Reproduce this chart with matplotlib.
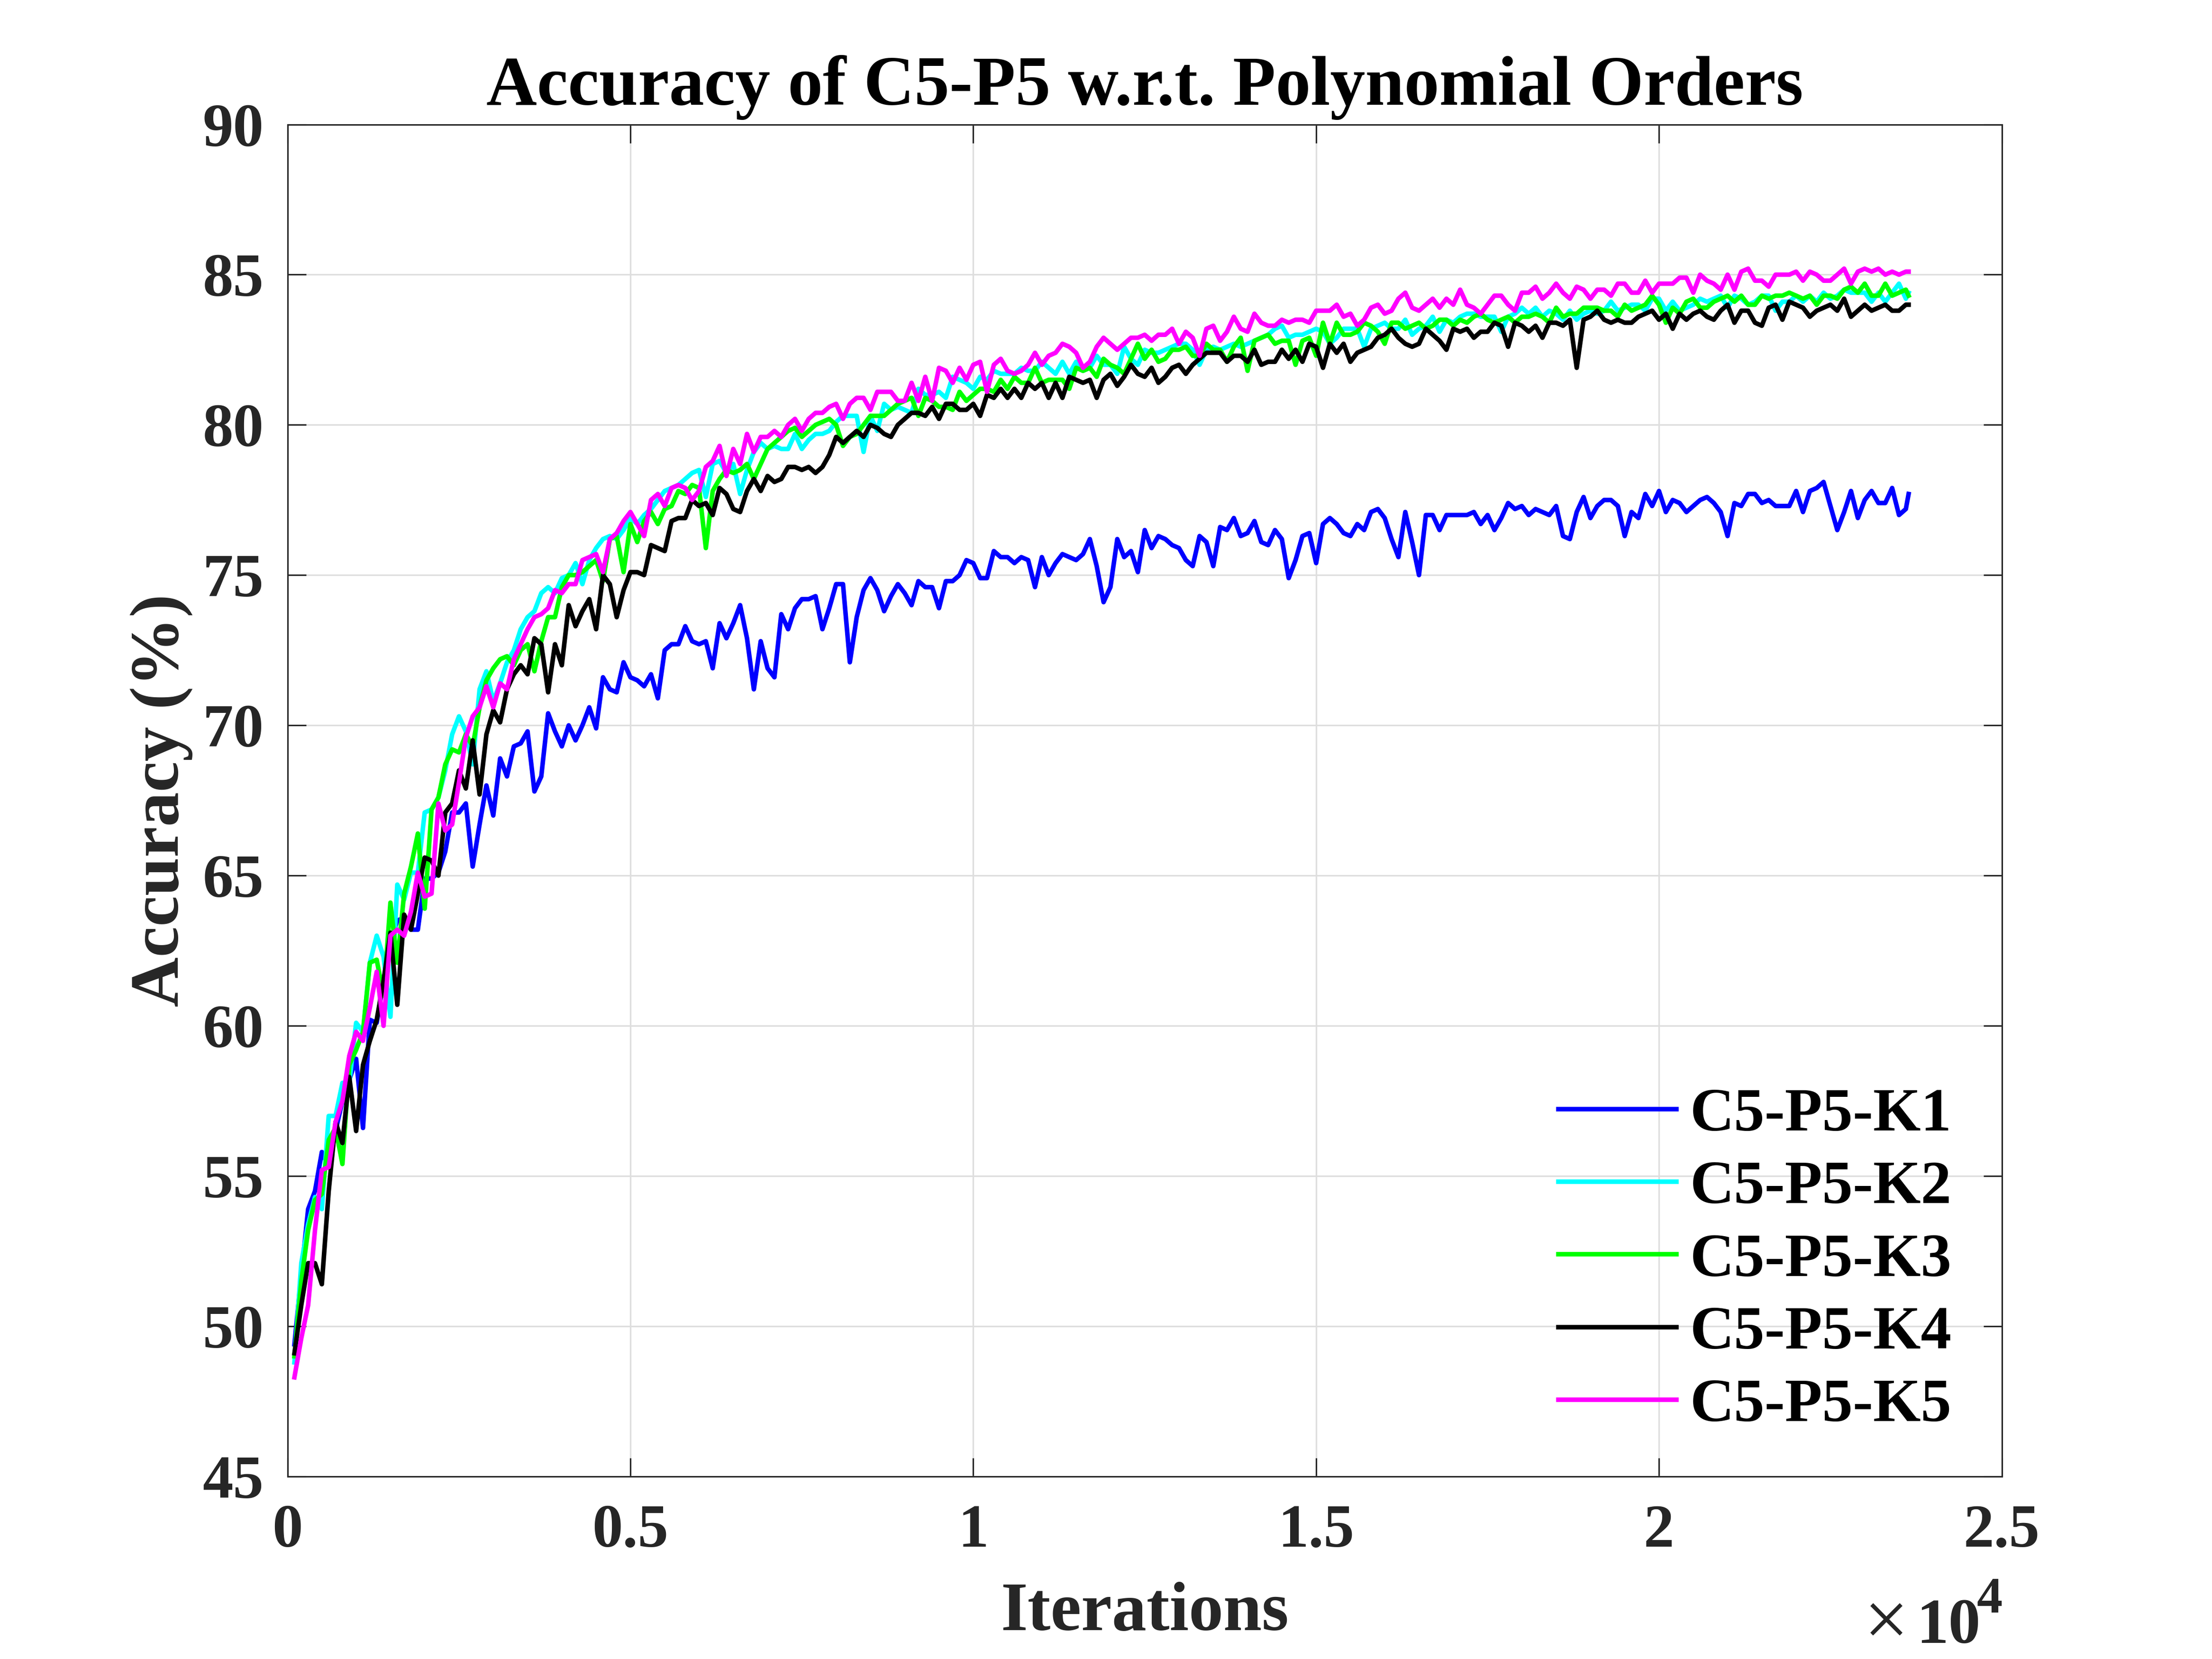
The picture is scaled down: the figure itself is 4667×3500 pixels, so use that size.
import numpy as np
import matplotlib
matplotlib.use('Agg')
import matplotlib.pyplot as plt

# ---------------- data ----------------
iterations = np.append(np.arange(100, 23601, 100), 23640)

k1 = [49.4, 51.7, 53.9, 54.5, 55.8, 55.3, 56.5, 57.5, 58.2, 58.9,
      56.6, 60.2, 60.1, 61.5, 62.8, 63.5, 63.6, 63.2, 63.2, 64.9,
      64.9, 65.1, 65.8, 67.1, 67.1, 67.4, 65.3, 66.7, 68.0, 67.0,
      68.9, 68.3, 69.3, 69.4, 69.8, 67.8, 68.3, 70.4, 69.8, 69.3,
      70.0, 69.5, 70.0, 70.6, 69.9, 71.6, 71.2, 71.1, 72.1, 71.6,
      71.5, 71.3, 71.7, 70.9, 72.5, 72.7, 72.7, 73.3, 72.8, 72.7,
      72.8, 71.9, 73.4, 72.9, 73.4, 74.0, 72.9, 71.2, 72.8, 71.9,
      71.6, 73.7, 73.2, 73.9, 74.2, 74.2, 74.3, 73.2, 73.9, 74.7,
      74.7, 72.1, 73.6, 74.5, 74.9, 74.5, 73.8, 74.3, 74.7, 74.4,
      74.0, 74.8, 74.6, 74.6, 73.9, 74.8, 74.8, 75.0, 75.5, 75.4,
      74.9, 74.9, 75.8, 75.6, 75.6, 75.4, 75.6, 75.5, 74.6, 75.6,
      75.0, 75.4, 75.7, 75.6, 75.5, 75.7, 76.2, 75.3, 74.1, 74.6,
      76.2, 75.6, 75.8, 75.1, 76.5, 75.9, 76.3, 76.2, 76.0, 75.9,
      75.5, 75.3, 76.3, 76.1, 75.3, 76.6, 76.5, 76.9, 76.3, 76.4,
      76.8, 76.1, 76.0, 76.5, 76.2, 74.9, 75.5, 76.3, 76.4, 75.4,
      76.7, 76.9, 76.7, 76.4, 76.3, 76.7, 76.5, 77.1, 77.2, 76.9,
      76.2, 75.6, 77.1, 76.1, 75.0, 77.0, 77.0, 76.5, 77.0, 77.0,
      77.0, 77.0, 77.1, 76.7, 77.0, 76.5, 76.9, 77.4, 77.2, 77.3,
      77.0, 77.2, 77.1, 77.0, 77.3, 76.3, 76.2, 77.1, 77.6, 76.9,
      77.3, 77.5, 77.5, 77.3, 76.3, 77.1, 76.9, 77.7, 77.3, 77.8,
      77.1, 77.5, 77.4, 77.1, 77.3, 77.5, 77.6, 77.4, 77.1, 76.3,
      77.4, 77.3, 77.7, 77.7, 77.4, 77.5, 77.3, 77.3, 77.3, 77.8,
      77.1, 77.8, 77.9, 78.1, 77.3, 76.5, 77.1, 77.8, 76.9, 77.5,
      77.8, 77.4, 77.4, 77.9, 77.0, 77.2, 77.7]

k2 = [48.8, 52.1, 53.4, 54.3, 53.9, 57.0, 57.0, 58.1, 58.1, 60.1,
      59.8, 62.1, 63.0, 62.3, 60.3, 64.7, 64.2, 65.1, 65.1, 67.1,
      67.2, 67.6, 68.5, 69.7, 70.3, 69.8, 68.7, 71.2, 71.8, 70.8,
      71.4, 72.1, 72.5, 73.2, 73.6, 73.8, 74.4, 74.6, 74.4, 74.9,
      75.0, 75.4, 74.7, 75.5, 75.9, 76.2, 76.3, 76.2, 76.5, 76.9,
      76.7, 77.0, 77.2, 77.5, 77.8, 77.9, 78.0, 78.2, 78.4, 78.5,
      77.6, 78.7, 78.8, 78.4, 78.7, 77.7, 78.5, 79.1, 79.4, 79.2,
      79.3, 79.2, 79.2, 79.7, 79.2, 79.5, 79.7, 79.7, 79.8, 80.1,
      80.3, 80.3, 80.3, 79.1, 80.3, 79.8, 80.7, 80.5, 80.6, 80.5,
      80.4, 81.2, 81.0, 81.0, 81.1, 80.9, 81.6, 81.5, 81.4, 81.2,
      81.6, 81.5, 81.8, 81.7, 81.7, 81.7, 81.9, 81.8, 81.8, 82.1,
      81.9, 81.7, 82.1, 81.7, 82.1, 81.8, 81.9, 82.3, 82.0, 82.0,
      81.7, 82.6, 82.2, 82.0, 82.5, 82.4, 82.4, 82.5, 82.6, 82.7,
      82.7, 82.5, 82.0, 82.5, 82.6, 82.5, 82.6, 82.7, 82.6, 82.7,
      82.8, 82.9, 83.0, 83.2, 83.3, 82.9, 83.0, 83.0, 83.1, 83.2,
      83.1, 82.7, 82.9, 83.2, 83.2, 83.2, 82.6, 83.2, 83.3, 83.4,
      83.2, 83.2, 83.5, 83.0, 83.2, 83.3, 83.6, 83.1, 83.5, 83.4,
      83.6, 83.7, 83.7, 83.6, 83.6, 83.6, 83.1, 83.6, 83.7, 83.9,
      83.7, 83.9, 83.6, 83.8, 83.7, 83.5, 83.8, 83.5, 83.7, 83.8,
      83.7, 83.8, 84.1, 83.8, 83.9, 84.0, 84.0, 83.8, 84.2, 84.2,
      83.8, 84.1, 83.8, 83.9, 84.0, 84.2, 84.1, 84.2, 84.3, 83.9,
      84.3, 84.2, 84.0, 84.1, 84.3, 84.3, 83.8, 84.1, 84.1, 84.3,
      84.1, 84.3, 84.1, 84.4, 84.2, 84.3, 84.5, 84.4, 84.4, 84.4,
      84.1, 84.4, 84.1, 84.4, 84.7, 84.2, 84.4]

k3 = [49.0, 51.5, 53.2, 54.2, 54.4, 56.2, 56.6, 55.4, 58.7, 59.2,
      59.8, 62.1, 62.2, 61.0, 64.1, 62.1, 64.4, 65.3, 66.4, 63.9,
      67.2, 67.6, 68.7, 69.2, 69.1, 69.7, 69.3, 70.6, 71.5, 71.9,
      72.2, 72.3, 72.0, 72.5, 72.7, 71.8, 72.8, 73.6, 73.6, 74.6,
      75.0, 75.0, 75.1, 75.3, 75.5, 74.8, 76.2, 76.3, 75.1, 76.7,
      76.1, 76.8, 77.1, 76.7, 77.2, 77.3, 77.8, 77.7, 78.0, 77.9,
      75.9, 77.8, 78.2, 78.5, 78.4, 78.5, 78.7, 78.2, 78.7, 79.2,
      79.4, 79.6, 79.8, 79.9, 79.6, 79.8, 80.0, 80.1, 80.2, 80.0,
      79.3, 79.6, 79.7, 80.0, 80.3, 80.3, 80.3, 80.5, 80.7, 80.8,
      80.9, 80.3, 80.9, 80.8, 80.6, 80.6, 80.5, 81.1, 80.8, 81.0,
      81.2, 81.2, 81.1, 81.5, 81.2, 81.6, 81.4, 81.4, 81.9, 81.4,
      81.5, 81.5, 81.5, 81.2, 81.9, 81.8, 81.9, 81.6, 82.2, 82.0,
      81.9, 81.7, 82.2, 82.7, 82.2, 82.5, 82.1, 82.2, 82.5, 82.5,
      82.6, 82.3, 82.3, 82.7, 82.5, 82.5, 82.1, 82.6, 82.9, 81.8,
      82.8, 82.9, 83.0, 82.7, 82.8, 82.8, 82.0, 82.8, 82.9, 82.3,
      83.4, 82.7, 83.4, 83.0, 83.0, 83.1, 83.4, 83.3, 83.1, 82.7,
      83.4, 83.4, 83.2, 83.3, 83.4, 83.2, 83.3, 83.5, 83.5, 83.3,
      83.5, 83.4, 83.6, 83.7, 83.5, 83.4, 83.5, 83.6, 83.4, 83.6,
      83.6, 83.7, 83.6, 83.4, 83.9, 83.6, 83.7, 83.7, 83.9, 83.9,
      83.9, 83.8, 83.8, 83.6, 84.0, 83.8, 83.9, 84.0, 84.3, 84.0,
      83.4, 83.9, 83.7, 84.1, 84.2, 83.9, 83.9, 84.1, 84.2, 84.3,
      84.1, 84.3, 84.0, 84.0, 84.3, 84.2, 84.3, 84.3, 84.4, 84.3,
      84.2, 84.3, 84.0, 84.3, 84.3, 84.2, 84.5, 84.6, 84.4, 84.7,
      84.3, 84.3, 84.7, 84.3, 84.4, 84.5, 84.3]

k4 = [49.1, 50.7, 52.1, 52.1, 51.4, 54.5, 56.8, 56.1, 58.3, 56.5,
      58.7, 59.5, 60.2, 61.5, 63.1, 60.7, 63.7, 63.2, 64.4, 65.6,
      65.5, 65.0, 67.1, 67.4, 68.5, 67.9, 69.5, 67.7, 69.7, 70.5,
      70.1, 71.2, 71.7, 72.0, 71.7, 72.9, 72.7, 71.1, 72.7, 72.0,
      74.0, 73.3, 73.8, 74.2, 73.2, 75.0, 74.7, 73.6, 74.5, 75.1,
      75.1, 75.0, 76.0, 75.9, 75.8, 76.8, 76.9, 76.9, 77.5, 77.3,
      77.4, 77.0, 77.9, 77.7, 77.2, 77.1, 77.8, 78.2, 77.8, 78.3,
      78.1, 78.2, 78.6, 78.6, 78.5, 78.6, 78.4, 78.6, 79.0, 79.6,
      79.4, 79.6, 79.8, 79.6, 80.0, 79.9, 79.7, 79.6, 80.0, 80.2,
      80.4, 80.4, 80.3, 80.6, 80.2, 80.7, 80.7, 80.5, 80.5, 80.7,
      80.3, 81.0, 80.9, 81.2, 80.9, 81.2, 80.9, 81.4, 81.2, 81.4,
      80.9, 81.4, 80.9, 81.6, 81.5, 81.4, 81.5, 80.9, 81.5, 81.7,
      81.3, 81.6, 82.0, 81.7, 81.6, 81.9, 81.4, 81.6, 81.9, 82.0,
      81.7, 82.0, 82.2, 82.4, 82.4, 82.4, 82.1, 82.3, 82.3, 82.1,
      82.5, 82.0, 82.1, 82.1, 82.5, 82.2, 82.5, 82.1, 82.7, 82.6,
      81.9, 82.7, 82.4, 82.7, 82.1, 82.4, 82.5, 82.6, 82.9, 83.0,
      83.2, 82.9, 82.7, 82.6, 82.7, 83.2, 83.0, 82.8, 82.5, 83.2,
      83.1, 83.2, 82.9, 83.1, 83.1, 83.4, 83.3, 82.6, 83.4, 83.3,
      83.1, 83.3, 82.9, 83.4, 83.4, 83.3, 83.5, 81.9, 83.5, 83.6,
      83.8, 83.5, 83.4, 83.5, 83.4, 83.4, 83.6, 83.7, 83.8, 83.5,
      83.7, 83.2, 83.7, 83.5, 83.7, 83.8, 83.6, 83.5, 83.8, 84.0,
      83.4, 83.8, 83.8, 83.4, 83.3, 83.9, 84.0, 83.5, 84.1, 84.0,
      83.9, 83.6, 83.8, 83.9, 84.0, 83.8, 84.2, 83.6, 83.8, 84.0,
      83.8, 83.9, 84.0, 83.8, 83.8, 84.0, 84.0]

k5 = [48.3, 49.6, 50.7, 53.2, 55.2, 55.3, 56.8, 57.5, 59.0, 59.8,
      59.5, 60.6, 61.8, 60.0, 63.0, 63.2, 63.0, 63.8, 65.1, 64.3,
      64.4, 67.4, 66.5, 66.7, 68.1, 69.6, 70.3, 70.6, 71.3, 70.6,
      71.4, 71.2, 72.2, 72.7, 73.2, 73.6, 73.7, 73.9, 74.5, 74.4,
      74.7, 74.7, 75.5, 75.6, 75.7, 75.1, 76.2, 76.4, 76.8, 77.1,
      76.7, 76.3, 77.5, 77.7, 77.3, 77.9, 78.0, 77.9, 77.5, 77.8,
      78.6, 78.8, 79.3, 78.3, 79.2, 78.7, 79.7, 79.1, 79.6, 79.6,
      79.8, 79.6, 80.0, 80.2, 79.8, 80.2, 80.4, 80.4, 80.6, 80.7,
      80.2, 80.7, 80.9, 80.9, 80.5, 81.1, 81.1, 81.1, 80.8, 80.8,
      81.4, 80.8, 81.6, 80.8, 81.9, 81.8, 81.4, 81.9, 81.5, 82.0,
      82.1, 81.1, 82.0, 82.2, 81.8, 81.7, 81.8, 82.0, 82.4, 82.0,
      82.3, 82.4, 82.7, 82.6, 82.4, 81.9, 82.1, 82.6, 82.9, 82.7,
      82.5, 82.7, 82.9, 82.9, 83.0, 82.8, 83.0, 83.0, 83.2, 82.7,
      83.1, 82.9, 82.3, 83.2, 83.3, 82.8, 83.1, 83.6, 83.2, 83.1,
      83.7, 83.4, 83.3, 83.3, 83.5, 83.4, 83.5, 83.5, 83.4, 83.8,
      83.8, 83.8, 84.0, 83.6, 83.7, 83.3, 83.5, 83.9, 84.0, 83.7,
      83.8, 84.2, 84.4, 83.9, 83.8, 84.0, 84.2, 83.9, 84.2, 84.0,
      84.5, 84.0, 83.9, 83.7, 84.0, 84.3, 84.3, 84.0, 83.8, 84.4,
      84.4, 84.6, 84.2, 84.4, 84.7, 84.4, 84.2, 84.6, 84.5, 84.2,
      84.5, 84.5, 84.3, 84.7, 84.7, 84.4, 84.4, 84.8, 84.4, 84.7,
      84.7, 84.7, 84.9, 84.9, 84.4, 85.0, 84.8, 84.7, 84.5, 85.0,
      84.5, 85.1, 85.2, 84.8, 84.8, 84.6, 85.0, 85.0, 85.0, 85.1,
      84.8, 85.1, 85.0, 84.8, 84.8, 85.0, 85.2, 84.7, 85.1, 85.2,
      85.1, 85.2, 85.0, 85.1, 85.0, 85.1, 85.1]

series_labels = ['C5-P5-K1', 'C5-P5-K2', 'C5-P5-K3', 'C5-P5-K4', 'C5-P5-K5']
series_colors = ['#0000ff', '#00ffff', '#00ff00', '#000000', '#ff00ff']
xtick_values = [0, 5000, 10000, 15000, 20000, 25000]
xtick_labels = ['0', '0.5', '1', '1.5', '2', '2.5']
ytick_values = [45, 50, 55, 60, 65, 70, 75, 80, 85, 90]

# ---------------- style ----------------
plt.rcParams['font.family'] = ['Liberation Serif', 'DejaVu Serif']
plt.rcParams['font.weight'] = 'bold'

axcol = '#262626'
fs = 31
W, H = 4667, 3500

fig = plt.figure(figsize=(W / 300, H / 300), dpi=300)
ax = fig.add_axes([0.13, 0.11, 0.775, 0.815])

for vals, lab, col in zip([k1, k2, k3, k4, k5], series_labels, series_colors):
    ax.plot(iterations, vals, color=col, lw=2.3, label=lab)

ax.set_xlim(0, 25000)
ax.set_ylim(45, 90)
ax.set_xticks(xtick_values)
ax.set_xticklabels(xtick_labels)
ax.set_yticks(ytick_values)

ax.grid(True, color='#dedede', lw=0.8)
ax.set_axisbelow(True)
for s in ax.spines.values():
    s.set_color(axcol)
    s.set_linewidth(0.75)
ax.tick_params(axis='both', direction='in', length=9.4, width=0.75, color=axcol,
               labelcolor=axcol, labelsize=fs, top=True, right=True)
ax.tick_params(axis='x', pad=14)
ax.tick_params(axis='y', pad=12)
for t in ax.get_xticklabels() + ax.get_yticklabels():
    t.set_fontweight('bold')

ax.set_xlabel('Iterations', fontsize=35, fontweight='bold', color=axcol, labelpad=11)
ax.set_ylabel('Accuracy (%)', fontsize=35, fontweight='bold', color=axcol, labelpad=5)
ax.set_title('Accuracy of C5-P5 w.r.t. Polynomial Orders', fontsize=35.5,
             fontweight='bold', color='black', pad=10)

# axis multiplier "x10^4"
fig.text(3980 / W, 1 - 3432 / H, '\u00d7', fontsize=40, fontweight='normal',
         color=axcol, ha='center', va='center')
fig.text(4043 / W, 1 - 3466 / H, '10', fontsize=32.5, fontweight='bold',
         color=axcol, ha='left', va='baseline')
fig.text(4170 / W, 1 - 3402 / H, '4', fontsize=26, fontweight='bold',
         color=axcol, ha='left', va='baseline')

leg = ax.legend(loc='lower right', bbox_to_anchor=(0.985, 0.013), frameon=False,
                fontsize=fs, handlelength=1.93, handletextpad=0.22,
                labelspacing=0.27, borderaxespad=0.0)
for t in leg.get_texts():
    t.set_fontweight('bold')
    t.set_color('black')

fig.savefig('out.png', dpi=300, facecolor='white')
